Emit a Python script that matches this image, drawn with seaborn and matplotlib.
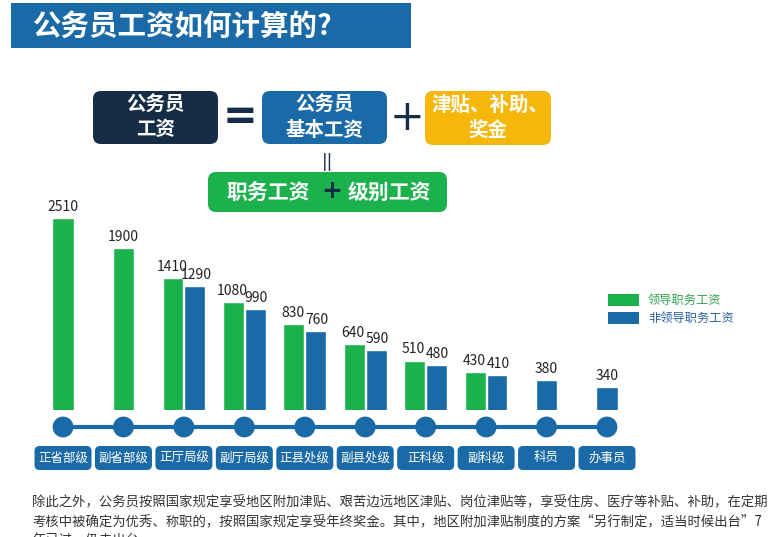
import matplotlib.pyplot as plt
from matplotlib.patches import FancyBboxPatch, Rectangle
import seaborn as sns
import numpy as np
import pandas as pd

# data (monthly pay, yuan)
categories = ['正省部级', '副省部级', '正厅局级', '副厅局级', '正县处级',
              '副县处级', '正科级', '副科级', '科员', '办事员']
leader_pay = [2510, 1900, 1410, 1080, 830, 640, 510, 430, None, None]
nonleader_pay = [None, None, 1290, 990, 760, 590, 480, 410, 380, 340]
series_names = ['领导职务工资', '非领导职务工资']

title = '公务员工资如何计算的?'
note_lines = [
    '除此之外，公务员按照国家规定享受地区附加津贴、艰苦边远地区津贴、岗位津贴等，享受住房、医疗等补贴、补助，在定期',
    '考核中被确定为优秀、称职的，按照国家规定享受年终奖金。其中，地区附加津贴制度的方案“另行制定，适当时候出台”7',
    '年已过，仍未出台。',
]

GREEN = '#1bb14c'
BLUE = '#1a6aa8'
NAVY = '#152d47'
YELLOW = '#f5b70a'
W, H = 770, 537

rows = []
for cat, a, b in zip(categories, leader_pay, nonleader_pay):
    paired = a is not None and b is not None
    if a is not None:
        rows.append((cat, series_names[0], a, paired))
    if b is not None:
        rows.append((cat, series_names[1], b, paired))
df = pd.DataFrame(rows, columns=['级别', '类别', '工资', 'paired'])

sns.set_theme(style='white')
plt.rcParams['font.family'] = ['Noto Sans CJK SC', 'DejaVu Sans']

fig = plt.figure(figsize=(W / 100, H / 100), dpi=100)
fig.patch.set_facecolor('white')

# bar area
ax = fig.add_axes([32.8 / W, (H - 410) / H, 604.4 / W, 220 / H])
palette = {series_names[0]: GREEN, series_names[1]: BLUE}
sns.barplot(data=df[df.paired], x='级别', y='工资', hue='类别', order=categories,
            hue_order=series_names, palette=palette, dodge=True, width=0.72, gap=0.04,
            saturation=1, errorbar=None, legend=False, ax=ax)
sns.barplot(data=df[~df.paired], x='级别', y='工资', hue='类别', order=categories,
            hue_order=series_names, palette=palette, dodge=False, width=0.35,
            saturation=1, errorbar=None, legend=False, ax=ax)

# the infographic bars are not drawn to a linear scale; a power scale follows them
fwd = lambda v: np.power(np.clip(v, 0, None), 0.3)
inv = lambda y: np.power(np.clip(y, 0, None), 1 / 0.3)
ax.set_yscale('function', functions=(fwd, inv))
ax.set_xlim(-0.5, len(categories) - 0.5)
ax.set_ylim(230, 3194)
ax.axis('off')

for _, r in df.iterrows():
    i = categories.index(r['级别'])
    off = 0
    if r['paired']:
        off = -0.2 if r['类别'] == series_names[0] else 0.2
    ax.annotate(f"{r['工资']:.0f}", (i + off, r['工资']), xytext=(0, 3),
                textcoords='offset points', ha='center', va='bottom',
                fontsize=10, color='#222222')

# pixel x of each category centre
xs = ax.transData.transform(np.column_stack([np.arange(len(categories)),
                                             np.full(len(categories), 1000)]))[:, 0]

# overlay in pixel coordinates for the infographic decorations
ov = fig.add_axes([0, 0, 1, 1], zorder=5)
ov.patch.set_alpha(0)


def rbox(x0, y0, w, h, color, r=6):
    ov.add_patch(FancyBboxPatch((x0, y0), w, h, boxstyle=f'round,pad=0,rounding_size={r}',
                                facecolor=color, edgecolor='none'))


# title banner
ov.add_patch(Rectangle((11, 3), 400, 45, facecolor=BLUE, edgecolor='none'))
ov.text(33, 27, title, color='white', fontsize=20.5, fontweight='bold', va='center', ha='left')

# formula
rbox(93, 91, 125, 53, NAVY, 8)
ov.text(155.5, 105, '公务员', color='white', fontsize=14, fontweight='bold', ha='center', va='center')
ov.text(155.5, 130, '工资', color='white', fontsize=14, fontweight='bold', ha='center', va='center')
ov.text(240, 117, '=', color=NAVY, fontsize=30, fontweight='bold', ha='center', va='center',
        family='DejaVu Sans')
rbox(262, 91, 125, 53, BLUE, 8)
ov.text(324.5, 105, '公务员', color='white', fontsize=14, fontweight='bold', ha='center', va='center')
ov.text(324.5, 130, '基本工资', color='white', fontsize=14, fontweight='bold', ha='center', va='center')
ov.text(407, 118, '+', color=NAVY, fontsize=30, ha='center', va='center', family='DejaVu Sans')
rbox(425, 91, 126, 54, YELLOW, 8)
ov.text(490, 105, '津贴、补助、', color='white', fontsize=14, fontweight='bold', ha='center', va='center')
ov.text(488, 130, '奖金', color='white', fontsize=14, fontweight='bold', ha='center', va='center')
ov.text(328, 162, '||', color=NAVY, fontsize=12, ha='center', va='center', family='DejaVu Sans')
rbox(208, 172, 239, 40, GREEN, 8)
ov.text(268, 192, '职务工资', color='white', fontsize=15, fontweight='bold', ha='center', va='center')
ov.text(332, 191, '+', color=NAVY, fontsize=18, fontweight='bold', ha='center', va='center',
        family='DejaVu Sans')
ov.text(389, 192, '级别工资', color='white', fontsize=15, fontweight='bold', ha='center', va='center')

# timeline with level labels
ov.plot([xs[0], xs[-1]], [427, 427], color=BLUE, lw=3, solid_capstyle='butt', zorder=1)
sns.scatterplot(x=xs, y=np.full(len(xs), 427), s=225, color=BLUE, edgecolor='none',
                ax=ov, zorder=2)
for x, cat in zip(xs, categories):
    rbox(x - 28.5, 446, 57, 24, BLUE, 5)
    ov.text(x, 458, cat, color='white', fontsize=9, ha='center', va='center')

# legend
ov.add_patch(Rectangle((608, 294), 31, 12, facecolor=GREEN, edgecolor='none'))
ov.add_patch(Rectangle((608, 312), 31, 12, facecolor=BLUE, edgecolor='none'))
ov.text(648, 300, series_names[0], color='#35a352', fontsize=8.8, va='center')
ov.text(648, 318, series_names[1], color='#2b62a0', fontsize=8.8, va='center')

# note text (third line runs off the bottom edge, as in the source image)
for k, line in enumerate(note_lines):
    ov.text(32, 502 + 19 * k, line, color='#333333', fontsize=9.6, va='center', ha='left')

ov.set_xlim(0, W)
ov.set_ylim(H, 0)
ov.axis('off')

fig.savefig('out.png', dpi=100)
